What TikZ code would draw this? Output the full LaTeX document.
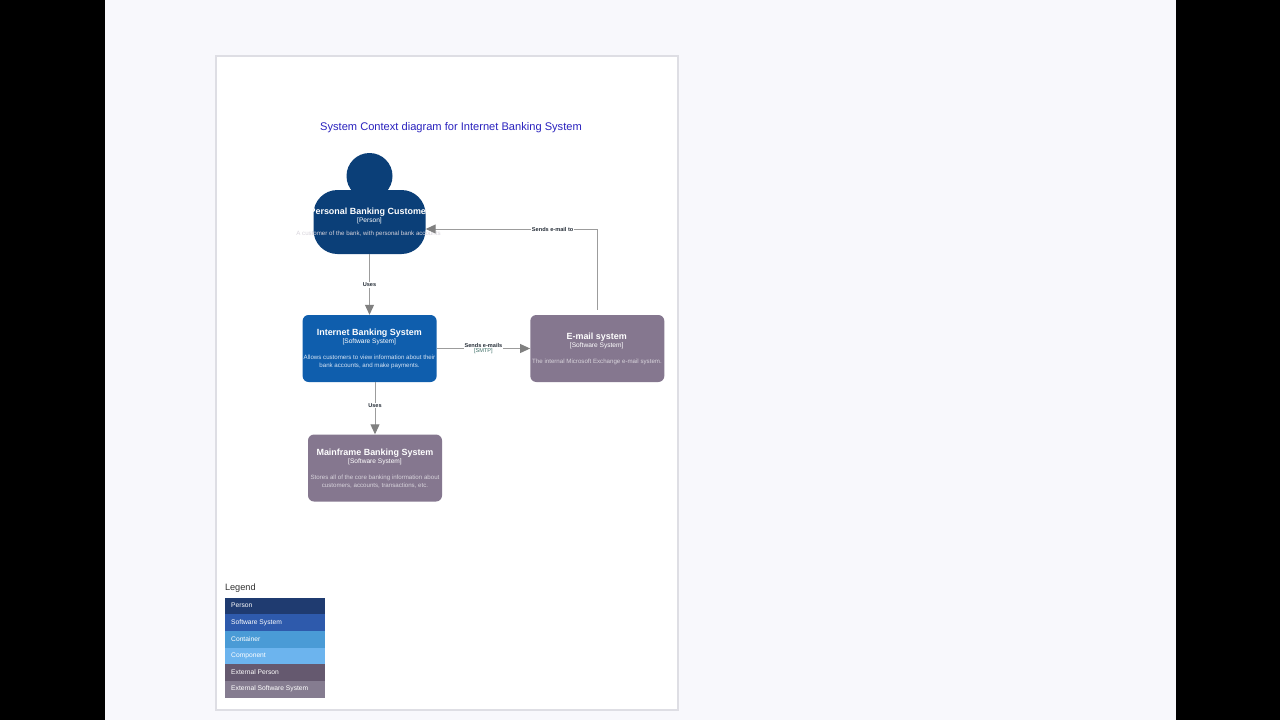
\documentclass[tikz,border=0pt]{standalone}
\usepackage{fontspec}
\setmainfont{Liberation Sans}
\usetikzlibrary{arrows.meta,positioning}
\definecolor{pagebg}{HTML}{F8F8FC}
\definecolor{cardedge}{HTML}{DEDEE4}
\definecolor{titleblue}{HTML}{2A22BE}
\definecolor{persondark}{HTML}{0B3F78}
\definecolor{sysblue}{HTML}{0F5EAD}
\definecolor{extgrey}{HTML}{85778F}
\definecolor{linegrey}{HTML}{9C9C9C}
\definecolor{headgrey}{HTML}{808080}
\definecolor{labeltext}{HTML}{28303A}
\definecolor{smtpgreen}{HTML}{3E6E66}
\definecolor{descgrey}{HTML}{D8D4DC}
\definecolor{descblue}{HTML}{D6E4F4}
\definecolor{lgA}{HTML}{1F3B70}
\definecolor{lgB}{HTML}{2E5AAC}
\definecolor{lgC}{HTML}{4A9BD6}
\definecolor{lgD}{HTML}{6CB4EE}
\definecolor{lgE}{HTML}{65596F}
\definecolor{lgF}{HTML}{857C90}
\newcommand{\fs}[1]{\fontsize{#1}{#1}\selectfont}
\tikzset{
  x=1pt,y=-1pt,
  sysbox/.style={draw=none,rounded corners=6pt,minimum width=134pt,minimum height=67pt,inner sep=0pt},
  conn/.style={draw=linegrey,line width=1pt,-{Stealth[length=10pt,width=9pt,inset=0pt,color=headgrey]}},
  edgelabel/.style={fill=white,inner sep=0.6pt,text=labeltext,align=center,font=\fs{5.6}\bfseries},
  nodetitle/.style={text=white,inner sep=0pt,font=\fs{8.95}\bfseries},
  nodetype/.style={text=white,inner sep=0pt,font=\fs{6.6}},
  nodedesc/.style={inner sep=0pt,align=center,font=\fs{6.15}},
  legendrow/.style={minimum width=100pt,minimum height=16.8pt,inner sep=0pt,draw=none},
  legendtext/.style={text=white,inner sep=0pt,font=\fs{6.7}},
}
\begin{document}
\begin{tikzpicture}
\useasboundingbox (0,0) rectangle (1280,720);
\fill[pagebg] (0,0) rectangle (1280,720);
\fill[black] (0,0) rectangle (105,720);
\fill[black] (1176,0) rectangle (1280,720);
\draw[cardedge,fill=white,line width=2pt] (216,56) rectangle (678,709.5);

\node[text=titleblue,inner sep=0pt,font=\fs{11.1}] (title) at (451,127.3) {System Context diagram for Internet Banking System};

% person
\fill[persondark] (369.5,176) circle (23);
\node[fill=persondark,rounded corners=24pt,minimum width=112pt,minimum height=64pt,inner sep=0pt] (person) at (369.5,222) {};
\node[nodetitle] (personT) at (369.5,212) {Personal Banking Customer};
\node[nodetype] (personK) at (369.5,220.3) {[Person]};
\node[nodedesc,text=descgrey] (personD) at (368.5,234) {A customer of the bank, with personal bank accounts};

% systems
\node[sysbox,fill=sysblue] (ibs) at (369.6,348.5) {};
\node[nodetitle] (ibsT) at (369.3,333) {Internet Banking System};
\node[nodetype] (ibsK) at (369.3,342) {[Software System]};
\node[nodedesc,text=descblue] (ibsD) at (369.5,362) {Allows customers to view information about their\\[2.2pt]bank accounts, and make payments.};

\node[sysbox,fill=extgrey] (mail) at (597.3,348.5) {};
\node[nodetitle] (mailT) at (596.7,337.2) {E-mail system};
\node[nodetype] (mailK) at (596.7,346) {[Software System]};
\node[nodedesc,text=descgrey] (mailD) at (597,362) {The internal Microsoft Exchange e-mail system.};

\node[sysbox,fill=extgrey] (main) at (375,468) {};
\node[nodetitle] (mainT) at (375,453) {Mainframe Banking System};
\node[nodetype] (mainK) at (375,461.5) {[Software System]};
\node[nodedesc,text=descgrey] (mainD) at (375,481.5) {Stores all of the core banking information about\\[2.2pt]customers, accounts, transactions, etc.};

% connectors
\draw[conn] (person.south) -- node[edgelabel,pos=0.5,yshift=-0.5pt] (l1) {Uses} (person.south |- ibs.north);
\draw[conn] (main.north |- ibs.south) -- node[edgelabel,pos=0.43,yshift=-0.5pt] (l2) {Uses} (main.north);
\draw[conn] (ibs.east) -- node[edgelabel,pos=0.5,yshift=-0.3pt] (l3) {Sends e-mails\\[-0.5pt]{\mdseries\color{smtpgreen}[SMTP]}} (mail.west);
\coordinate (mailtop) at ([yshift=5pt]mail.north);
\coordinate (elbow) at (mailtop |- 0,229);
\draw[conn] (mailtop) -- (elbow) -- node[edgelabel,pos=0.26] (l4) {Sends e-mail to} (person.east |- elbow);

% legend
\node[text=black!80,inner sep=0pt,anchor=west,font=\fs{9.2}] (legend) at (224.8,587.8) {Legend};
\foreach \n/\c/\y/\t in {a/lgA/605.9/Person,b/lgB/622.6/Software System,c/lgC/639.3/Container,d/lgD/655.9/Component,e/lgE/672.6/External Person,f/lgF/689.3/External Software System}{
  \node[legendrow,fill=\c] (row\n) at (274.5,\y) {};
  \node[legendtext,anchor=west] (txt\n) at (231,\y-0.3) {\t};
}
\end{tikzpicture}
\end{document}
